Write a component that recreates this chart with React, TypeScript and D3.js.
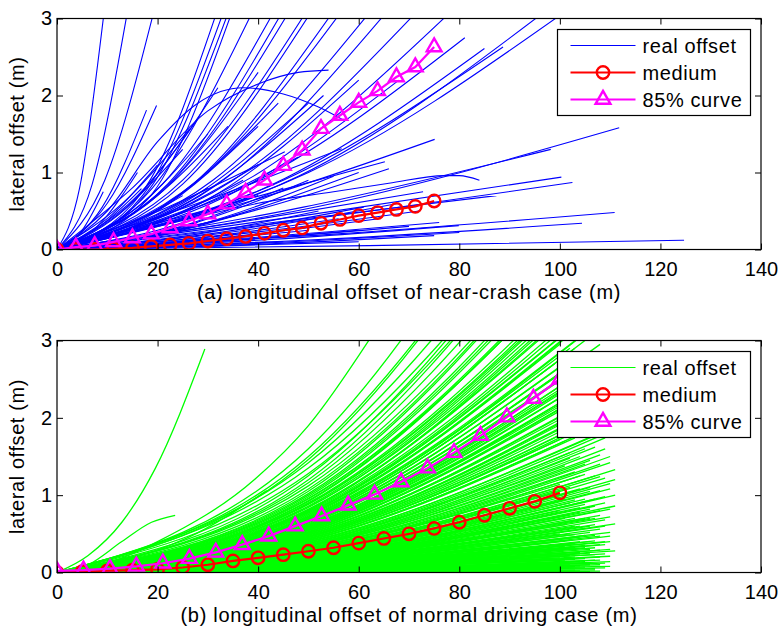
import { useEffect, useRef } from 'react'
import * as d3 from 'd3'

const xTicks = [0, 20, 40, 60, 80, 100, 120, 140]
const yTicks = [0, 1, 2, 3]
const legendLabels = ['real offset', 'medium', '85% curve']

// (a) near-crash: medium and 85% curve, sampled every 3.75 m
const crashX = [0, 3.75, 7.5, 11.25, 15, 18.75, 22.5, 26.25, 30, 33.75, 37.5, 41.25, 45, 48.75, 52.5, 56.25, 60, 63.75, 67.5, 71.25, 75]
const crashMedium = [0, 0, 0, 0.01, 0.02, 0.04, 0.06, 0.08, 0.11, 0.14, 0.17, 0.21, 0.25, 0.28, 0.34, 0.39, 0.44, 0.48, 0.52, 0.56, 0.63]
const crash85 = [0, 0.03, 0.05, 0.1, 0.15, 0.2, 0.28, 0.37, 0.46, 0.59, 0.74, 0.9, 1.09, 1.29, 1.57, 1.74, 1.91, 2.06, 2.24, 2.37, 2.63]

// (b) normal driving
const normalMedX = [0, 5, 10, 15, 20, 25, 30, 35, 40, 45, 50, 55, 60, 65, 70, 75, 80, 85, 90, 95, 100]
const normalMedium = [0, 0.01, 0.02, 0.03, 0.04, 0.065, 0.1, 0.15, 0.19, 0.23, 0.275, 0.32, 0.38, 0.44, 0.5, 0.57, 0.65, 0.74, 0.83, 0.92, 1.03]
const normal85X = [0, 5.26, 10.53, 15.79, 21.05, 26.32, 31.58, 36.84, 42.11, 47.37, 52.63, 57.89, 63.16, 68.42, 73.68, 78.95, 84.21, 89.47, 94.74, 100]
const normal85 = [0.02, 0.03, 0.05, 0.08, 0.12, 0.18, 0.26, 0.36, 0.47, 0.6, 0.73, 0.87, 1.01, 1.17, 1.35, 1.55, 1.77, 2.01, 2.25, 2.5]

// real offset traces, pairs of (x, y) after the common origin
const crashTraces = [
  [4.5, 0.8, 9.3, 3.05], [7, 0.85, 13.9, 3.05], [9.5, 0.9, 19.1, 3.05], [10, 0.6, 19.8, 1.87],
  [9, 0.55, 17.8, 1.81], [5, 0.25, 9.2, 0.75], [8.5, 0.3, 16.8, 0.79], [17, 0.75, 31.6, 3.05],
  [17, 0.7, 32.9, 3.05], [18, 0.75, 33.9, 3.05], [18, 0.65, 34.6, 3.05], [19, 0.8, 38.6, 3.05],
  [21, 0.85, 42.8, 3.05], [22, 0.85, 44.5, 3.05], [23, 0.9, 45.8, 3.05], [25, 0.9, 49.2, 3.05],
  [25, 0.85, 50.2, 3.05], [27, 0.85, 54.5, 3.05], [28, 0.9, 56.1, 3.05], [31, 0.9, 61.8, 3.05],
  [32, 0.85, 65.1, 3.05], [35, 0.9, 71, 3.05], [39, 0.95, 77.7, 3.05], [48, 0.95, 96.2, 3.05],
  [50, 1.0, 100.2, 3.05], [40, 0.9, 81.1, 2.75], [43, 0.85, 85, 2.61], [45, 0.9, 88.7, 2.63],
  [10, 0.5, 20, 1.4, 28, 1.9, 37, 2.1, 45, 2.02, 52, 1.85, 57, 1.68],
  [15, 0.8, 30, 1.8, 40, 2.15, 48, 2.3, 54, 2.33],
  [13, 0.6, 26.4, 1.57], [22, 0.55, 45.3, 1.27], [28, 0.6, 56.6, 1.31], [32, 0.55, 65.2, 1.14],
  [37, 0.6, 75.1, 1.43], [36, 0.35, 72.8, 0.75], [43, 0.35, 87.4, 0.7], [50, 0.45, 100.3, 0.94],
  [51, 0.4, 102.5, 0.87], [55, 0.6, 111.8, 1.58], [49, 0.55, 98.2, 1.3], [55, 0.2, 110.9, 0.48],
  [52, 0.13, 104.4, 0.34], [40, 0.12, 79.9, 0.31], [62, 0.05, 124.7, 0.12],
  [20, 0.3, 40, 0.6, 55, 0.75, 66, 0.86, 77, 0.96, 80, 0.96, 84, 0.9],
  [20, 0.25, 40, 0.7], [22, 0.25, 45, 0.8], [25, 0.3, 50, 0.9], [27, 0.3, 55, 0.95],
  [30, 0.35, 60, 1.0], [18, 0.3, 37, 0.9], [15, 0.3, 30, 0.8], [12, 0.25, 25, 0.7],
  [20, 0.4, 40, 1.1], [24, 0.45, 48, 1.2], [33, 0.4, 66, 1.05], [20, 0.08, 40, 0.2],
  [25, 0.1, 50, 0.25], [30, 0.1, 60, 0.25], [35, 0.12, 70, 0.3], [38, 0.15, 76, 0.35],
  [28, 0.15, 56, 0.4], [32, 0.15, 64, 0.4], [15, 0.05, 30, 0.15], [22, 0.05, 45, 0.1],
  [30, 0.04, 60, 0.1], [37, 0.06, 75, 0.18], [40, 0.08, 80, 0.22], [26, 0.18, 52, 0.5],
  [30, 0.2, 61, 0.55], [34, 0.22, 68, 0.6], [36, 0.2, 72, 0.5], [18, 0.15, 36, 0.45],
  [14, 0.12, 28, 0.35], [15, 0.5, 30, 1.5], [17, 0.55, 34, 1.6], [20, 0.5, 40, 1.6],
  [22, 0.6, 44, 1.9], [25, 0.6, 50, 1.9], [27, 0.65, 53, 2.0], [30, 0.65, 60, 2.2],
  [14, 0.55, 28, 1.7], [12, 0.45, 25, 1.3], [10, 0.4, 20, 1.1], [8, 0.3, 16, 1.0],
  [16, 0.7, 32, 2.1], [20, 0.7, 40, 2.3], [34, 0.7, 68, 2.2],
]

// (x at 50 m, y there, end x, end y) per trace
const normalTraces = [
  [6.2, 0.22, 12.9, 0.65, 19.5, 1.34, 29.4, 2.89],
  [6.2, 0.1, 12.9, 0.4, 18.8, 0.65, 23.5, 0.74],
  [13, 0.15, 26, 0.45, 41.7, 1.06],
  [10, 0.12, 20, 0.4, 39.4, 1.21, 50, 1.9, 62.5, 3.05],
  [50, 1.6, 95, 5.6], [50, 1.5, 96, 5.2], [50, 1.46, 102, 5.8], [50, 1.42, 99, 5.0],
  [50, 1.35, 101, 4.9], [50, 1.28, 97, 4.4], [50, 1.25, 105, 5.3], [50, 1.2, 98, 4.5],
  [50, 1.16, 99, 4.4], [50, 1.12, 104, 4.6], [50, 1.08, 107, 4.8], [50, 1.05, 100, 4.2],
  [50, 1.02, 106, 4.5], [50, 1.0, 103, 4.2], [50, 0.98, 101, 4.0], [50, 0.96, 108, 4.3],
  [50, 0.95, 103, 4.0], [50, 0.93, 102, 3.9], [50, 0.92, 99, 3.7], [50, 0.9, 105, 3.9],
  [50, 0.89, 106, 3.9], [50, 0.88, 102, 3.6], [50, 0.86, 107, 3.9], [50, 0.85, 109, 3.9],
  [50, 0.84, 100, 3.4], [50, 0.82, 104, 3.5], [50, 0.81, 101, 3.3], [50, 0.8, 98, 3.2],
  [50, 0.79, 106, 3.5], [50, 0.78, 107, 3.5], [50, 0.77, 101, 3.1], [50, 0.76, 103, 3.2],
  [50, 0.75, 108, 3.4], [50, 0.74, 104, 3.2], [50, 0.73, 100, 2.95], [50, 0.72, 105, 3.1],
  [50, 0.71, 109, 3.3], [50, 0.7, 102, 2.9], [50, 0.69, 107, 3.1], [50, 0.685, 103, 2.9],
  [50, 0.68, 99, 2.7], [50, 0.67, 104, 2.85], [50, 0.66, 101, 2.7], [50, 0.655, 108, 2.95],
  [50, 0.65, 106, 2.85], [50, 0.64, 103, 2.7], [50, 0.63, 105, 2.7], [50, 0.62, 100, 2.5],
  [50, 0.61, 108, 2.75], [50, 0.605, 110, 2.85], [50, 0.6, 102, 2.45], [50, 0.59, 105, 2.55],
  [50, 0.585, 103, 2.45], [50, 0.58, 107, 2.6], [50, 0.57, 101, 2.3], [50, 0.565, 106, 2.5],
  [50, 0.56, 104, 2.35], [50, 0.55, 109, 2.55], [50, 0.545, 102, 2.25], [50, 0.54, 100, 2.15],
  [50, 0.53, 106, 2.35], [50, 0.525, 110, 2.5], [50, 0.52, 103, 2.2], [50, 0.51, 108, 2.3],
  [50, 0.505, 105, 2.2], [50, 0.5, 102, 2.05], [50, 0.49, 105, 2.1], [50, 0.485, 107, 2.15],
  [50, 0.48, 110, 2.3], [50, 0.47, 101, 1.9], [50, 0.465, 103, 1.95], [50, 0.46, 107, 2.05],
  [50, 0.455, 110, 2.1], [50, 0.45, 104, 1.9], [50, 0.44, 109, 2.0], [50, 0.435, 105, 1.9],
  [50, 0.43, 100, 1.72], [50, 0.42, 106, 1.85], [50, 0.415, 101, 1.7], [50, 0.41, 103, 1.74],
  [50, 0.4, 108, 1.8], [50, 0.395, 106, 1.75], [50, 0.39, 111, 1.85], [50, 0.38, 102, 1.55],
  [50, 0.375, 109, 1.74], [50, 0.37, 105, 1.6], [50, 0.36, 107, 1.62], [50, 0.355, 102, 1.48],
  [50, 0.35, 104, 1.5], [50, 0.345, 109, 1.6], [50, 0.34, 101, 1.38], [50, 0.335, 108, 1.52],
  [50, 0.33, 106, 1.45], [50, 0.32, 110, 1.5], [50, 0.315, 105, 1.4], [50, 0.31, 103, 1.3],
  [50, 0.3, 108, 1.4], [50, 0.3, 110, 1.42], [50, 0.295, 105, 1.27], [50, 0.29, 100, 1.14],
  [50, 0.285, 104, 1.25], [50, 0.28, 107, 1.25], [50, 0.275, 111, 1.33], [50, 0.27, 102, 1.1],
  [50, 0.27, 108, 1.24], [50, 0.265, 100, 1.05], [50, 0.26, 109, 1.22], [50, 0.255, 104, 1.08],
  [50, 0.25, 106, 1.1], [50, 0.25, 111, 1.2], [50, 0.245, 103, 1.05], [50, 0.24, 110, 1.15],
  [50, 0.235, 101, 0.95], [50, 0.232, 106, 1.05], [50, 0.23, 108, 1.06], [50, 0.228, 110, 1.08],
  [50, 0.225, 103, 0.94], [50, 0.22, 105, 0.95], [50, 0.215, 102, 0.9], [50, 0.21, 107, 0.95],
  [50, 0.21, 109, 0.98], [50, 0.205, 111, 1.0], [50, 0.2, 100, 0.8], [50, 0.2, 105, 0.88],
  [50, 0.195, 104, 0.84], [50, 0.19, 109, 0.9], [50, 0.19, 107, 0.86], [50, 0.185, 106, 0.82],
  [50, 0.182, 104, 0.78], [50, 0.18, 102, 0.75], [50, 0.178, 111, 0.86], [50, 0.175, 108, 0.8],
  [50, 0.17, 110, 0.82], [50, 0.17, 101, 0.7], [50, 0.165, 103, 0.7], [50, 0.162, 108, 0.74],
  [50, 0.16, 105, 0.7], [50, 0.158, 106, 0.7], [50, 0.155, 107, 0.7], [50, 0.15, 101, 0.62],
  [50, 0.15, 110, 0.72], [50, 0.145, 109, 0.68], [50, 0.142, 103, 0.6], [50, 0.14, 104, 0.6],
  [50, 0.138, 107, 0.62], [50, 0.135, 106, 0.6], [50, 0.13, 111, 0.63], [50, 0.13, 105, 0.57],
  [50, 0.128, 109, 0.6], [50, 0.125, 100, 0.5], [50, 0.12, 108, 0.56], [50, 0.12, 102, 0.5],
  [50, 0.116, 106, 0.52], [50, 0.115, 103, 0.49], [50, 0.11, 105, 0.48], [50, 0.11, 110, 0.52],
  [50, 0.107, 104, 0.46], [50, 0.105, 107, 0.48], [50, 0.102, 108, 0.47], [50, 0.1, 102, 0.42],
  [50, 0.099, 101, 0.41], [50, 0.097, 110, 0.47], [50, 0.094, 104, 0.4], [50, 0.092, 107, 0.41],
  [50, 0.09, 106, 0.4], [50, 0.088, 103, 0.37], [50, 0.086, 109, 0.4], [50, 0.085, 110, 0.4],
  [50, 0.083, 101, 0.34], [50, 0.08, 108, 0.36], [50, 0.08, 105, 0.35], [50, 0.078, 109, 0.36],
  [50, 0.076, 103, 0.32], [50, 0.074, 102, 0.31], [50, 0.073, 105, 0.32], [50, 0.07, 107, 0.32],
  [50, 0.068, 106, 0.3], [50, 0.066, 100, 0.27], [50, 0.064, 108, 0.29], [50, 0.063, 110, 0.3],
  [50, 0.062, 101, 0.25], [50, 0.06, 104, 0.26], [50, 0.058, 111, 0.28], [50, 0.057, 106, 0.25],
  [50, 0.055, 104, 0.24], [50, 0.054, 102, 0.22], [50, 0.051, 109, 0.24], [50, 0.05, 107, 0.23],
  [50, 0.048, 103, 0.2], [50, 0.046, 100, 0.19], [50, 0.045, 108, 0.2], [50, 0.043, 110, 0.21],
  [50, 0.042, 105, 0.18], [50, 0.04, 101, 0.16], [50, 0.039, 103, 0.17], [50, 0.037, 107, 0.16],
  [50, 0.035, 108, 0.16], [50, 0.034, 104, 0.14], [50, 0.032, 105, 0.14], [50, 0.031, 110, 0.14],
  [50, 0.029, 102, 0.12], [50, 0.028, 106, 0.12], [50, 0.026, 109, 0.12], [50, 0.025, 102, 0.1],
  [50, 0.023, 106, 0.1], [50, 0.022, 108, 0.1], [50, 0.02, 104, 0.085], [50, 0.019, 103, 0.08],
  [50, 0.017, 110, 0.08], [50, 0.016, 105, 0.07], [50, 0.014, 101, 0.06], [50, 0.013, 109, 0.06],
  [50, 0.011, 107, 0.05], [50, 0.01, 100, 0.04], [50, 0.008, 107, 0.035], [50, 0.007, 103, 0.03],
  [50, 0.005, 104, 0.02], [50, 0.004, 108, 0.018], [50, 0.003, 106, 0.01],
]

const font = '"Liberation Sans", Arial, Helvetica, sans-serif'

export default function App() {
  const ref = useRef<SVGSVGElement>(null)

  useEffect(() => {
    const svg = d3.select(ref.current)
    svg.selectAll('*').remove()

    const x = d3.scaleLinear().domain([0, 140]).range([57, 761])

    const panels = [
      {
        id: 'a', top: 18.5, bottom: 249.5, traces: crashTraces, color: '#0000ff', width: 1.1,
        medX: crashX, med: crashMedium, p85X: crashX, p85: crash85,
        title: '(a) longitudinal offset of near-crash case (m)', legendTop: 29.5,
      },
      {
        id: 'b', top: 340.5, bottom: 572.5, traces: normalTraces, color: '#00ff00', width: 1.3,
        medX: normalMedX, med: normalMedium, p85X: normal85X, p85: normal85,
        title: '(b) longitudinal offset of normal driving case (m)', legendTop: 351.5,
      },
    ]

    const tri = d3.symbol(d3.symbolTriangle, 95)

    panels.forEach(p => {
      const y = d3.scaleLinear().domain([0, 3]).range([p.bottom, p.top])
      const g = svg.append('g')

      g.append('clipPath').attr('id', 'clip-' + p.id)
        .append('rect')
        .attr('x', x(0)).attr('y', y(3))
        .attr('width', x(140) - x(0)).attr('height', y(0) - y(3))

      const line = d3.line<[number, number]>()
        .x(d => x(d[0]))
        .y(d => y(d[1]))
        .curve(d3.curveMonotoneX)

      const plot = g.append('g').attr('clip-path', `url(#clip-${p.id})`)

      plot.selectAll('path.trace')
        .data(p.traces)
        .join('path')
        .attr('class', 'trace')
        .attr('d', t => {
          const pts: [number, number][] = [[0, 0]]
          for (let i = 0; i < t.length; i += 2) pts.push([t[i], t[i + 1]])
          return line(pts)
        })
        .attr('fill', 'none')
        .attr('stroke', p.color)
        .attr('stroke-width', p.width)

      const medPts = p.medX.map((v, i) => [v, p.med[i]] as [number, number])
      const p85Pts = p.p85X.map((v, i) => [v, p.p85[i]] as [number, number])
      const straight = d3.line<[number, number]>().x(d => x(d[0])).y(d => y(d[1]))

      plot.append('path').attr('d', straight(medPts))
        .attr('fill', 'none').attr('stroke', '#ff0000').attr('stroke-width', 2.2)
      plot.selectAll('circle.med').data(medPts).join('circle')
        .attr('class', 'med')
        .attr('cx', d => x(d[0])).attr('cy', d => y(d[1])).attr('r', 6.2)
        .attr('fill', 'none').attr('stroke', '#ff0000').attr('stroke-width', 2.4)

      plot.append('path').attr('d', straight(p85Pts))
        .attr('fill', 'none').attr('stroke', '#ff00ff').attr('stroke-width', 2.2)
      plot.selectAll('path.p85').data(p85Pts).join('path')
        .attr('class', 'p85')
        .attr('d', tri())
        .attr('transform', d => `translate(${x(d[0])},${y(d[1])})`)
        .attr('fill', 'none').attr('stroke', '#ff00ff').attr('stroke-width', 2.4)

      // axes, ticks pointing inward on all four sides
      const styleAxis = (a: d3.Selection<SVGGElement, unknown, null, undefined>) => {
        a.select('.domain').remove()
        a.selectAll('line').attr('stroke', '#000').attr('stroke-width', 1)
        a.selectAll('text').attr('font-size', 20).attr('font-family', font).attr('fill', '#000')
      }
      g.append('g').attr('transform', `translate(0,${p.bottom})`)
        .call(d3.axisBottom(x).tickValues(xTicks).tickSize(-6).tickPadding(12.5).tickFormat(d3.format('d')))
        .call(styleAxis)
      g.append('g').attr('transform', `translate(0,${p.top})`)
        .call(d3.axisTop(x).tickValues(xTicks).tickSize(-6).tickFormat(() => ''))
        .call(styleAxis)
      g.append('g').attr('transform', `translate(${x(0)},0)`)
        .call(d3.axisLeft(y).tickValues(yTicks).tickSize(-6).tickPadding(5).tickFormat(d3.format('d')))
        .call(styleAxis)
      g.append('g').attr('transform', `translate(${x(140)},0)`)
        .call(d3.axisRight(y).tickValues(yTicks).tickSize(-6).tickFormat(() => ''))
        .call(styleAxis)

      g.append('rect')
        .attr('x', x(0)).attr('y', p.top)
        .attr('width', x(140) - x(0)).attr('height', p.bottom - p.top)
        .attr('fill', 'none').attr('stroke', '#000').attr('stroke-width', 1.2)

      g.append('text')
        .attr('x', (x(0) + x(140)) / 2).attr('y', p.bottom + 49)
        .attr('text-anchor', 'middle')
        .attr('font-size', 20).attr('font-family', font).attr('letter-spacing', 0.7)
        .text(p.title)

      g.append('text')
        .attr('transform', `translate(24,${(p.top + p.bottom) / 2}) rotate(-90)`)
        .attr('text-anchor', 'middle')
        .attr('font-size', 20).attr('font-family', font).attr('letter-spacing', 0.6)
        .text('lateral offset (m)')

      // legend
      const lg = g.append('g').attr('transform', `translate(557.5,${p.legendTop})`)
      lg.append('rect').attr('width', 193).attr('height', 86)
        .attr('fill', '#fff').attr('stroke', '#000').attr('stroke-width', 1.2)
      const rows = legendLabels.map((label, i) => ({ label, i }))
      const row = lg.selectAll('g.row').data(rows).join('g')
        .attr('class', 'row')
        .attr('transform', d => `translate(0,${16 + d.i * 27})`)
      row.append('line')
        .attr('x1', 13).attr('x2', 78)
        .attr('stroke', d => d.i === 0 ? p.color : d.i === 1 ? '#ff0000' : '#ff00ff')
        .attr('stroke-width', d => d.i === 0 ? 1 : 2.2)
      row.filter(d => d.i === 1).append('circle')
        .attr('cx', 45.5).attr('r', 6.2)
        .attr('fill', 'none').attr('stroke', '#ff0000').attr('stroke-width', 2.4)
      row.filter(d => d.i === 2).append('path')
        .attr('d', tri()).attr('transform', 'translate(45.5,0)')
        .attr('fill', 'none').attr('stroke', '#ff00ff').attr('stroke-width', 2.4)
      row.append('text')
        .attr('x', 85).attr('dy', '0.35em')
        .attr('font-size', 20).attr('font-family', font).attr('letter-spacing', 0.6)
        .text(d => d.label)
    })
  }, [])

  return (
    <svg
      ref={ref}
      width={780}
      height={628}
      style={{ position: 'absolute', left: 0, top: 0, background: '#fff' }}
    />
  )
}
